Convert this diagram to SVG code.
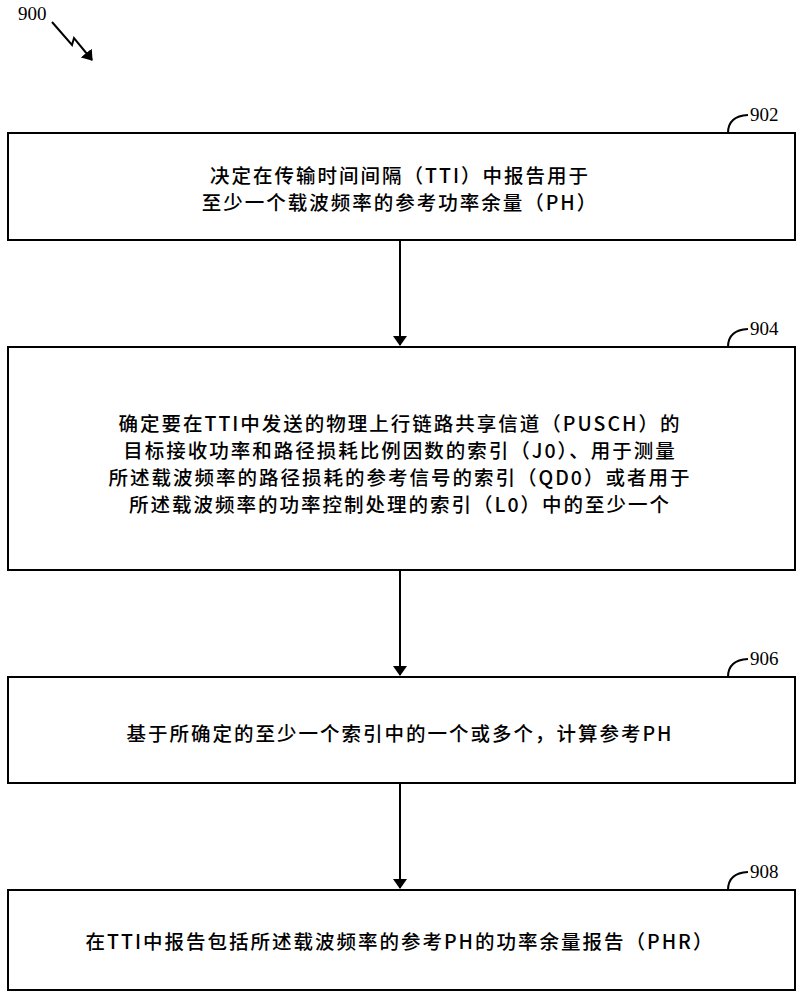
<svg xmlns="http://www.w3.org/2000/svg" width="801" height="1000" viewBox="0 0 801 1000">
<style>
.box{fill:#fff;stroke:#000;stroke-width:2}
.t{font-family:"Noto Sans CJK SC","Liberation Sans",sans-serif;font-size:19.5px;fill:#000;text-anchor:middle;letter-spacing:2px;font-weight:500}
.n{font-family:"Liberation Serif",serif;font-size:19px;fill:#000}
.ln{fill:none;stroke:#000;stroke-width:2}
</style>
<defs><marker id="ah" markerWidth="10" markerHeight="14" refX="9" refY="7" orient="auto" markerUnits="userSpaceOnUse"><path d="M0,0 L10,7 L0,14 Z" fill="#000"/></marker></defs>
<rect width="801" height="1000" fill="#fff"/>
<text class="n" x="18" y="20">900</text>
<path class="ln" d="M52,22 L72,45 L74,38 L92,60" marker-end="url(#ah)"/>
<g id="connectors">
<line class="ln" x1="400" y1="240" x2="400" y2="345" marker-end="url(#ah)"/>
<line class="ln" x1="400" y1="570" x2="400" y2="675" marker-end="url(#ah)"/>
<line class="ln" x1="400" y1="783" x2="400" y2="888" marker-end="url(#ah)"/>
<path class="ln" d="M728,133 Q728,116 748,115"/>
<path class="ln" d="M728,347 Q728,330 748,329"/>
<path class="ln" d="M728,677 Q728,660 748,659"/>
<path class="ln" d="M728,890 Q728,873 748,872"/>
</g>
<g id="n902"><rect class="box" x="8" y="133" width="787" height="107"/>
<text class="t" x="400" y="183">决定在传输时间间隔（TTI）中报告用于</text>
<text class="t" x="400" y="210">至少一个载波频率的参考功率余量（PH）</text>
<text class="n" x="750" y="121">902</text></g>
<g id="n904"><rect class="box" x="8" y="347" width="787" height="223"/>
<text class="t" x="400" y="431">确定要在TTI中发送的物理上行链路共享信道（PUSCH）的</text>
<text class="t" x="400" y="458">目标接收功率和路径损耗比例因数的索引（J0）、用于测量</text>
<text class="t" x="400" y="485">所述载波频率的路径损耗的参考信号的索引（QD0）或者用于</text>
<text class="t" x="400" y="512">所述载波频率的功率控制处理的索引（L0）中的至少一个</text>
<text class="n" x="750" y="335">904</text></g>
<g id="n906"><rect class="box" x="8" y="677" width="787" height="106"/>
<text class="t" x="400" y="741">基于所确定的至少一个索引中的一个或多个，计算参考PH</text>
<text class="n" x="750" y="665">906</text></g>
<g id="n908"><rect class="box" x="8" y="890" width="787" height="100"/>
<text class="t" x="400" y="949">在TTI中报告包括所述载波频率的参考PH的功率余量报告（PHR）</text>
<text class="n" x="750" y="878">908</text></g>
</svg>
